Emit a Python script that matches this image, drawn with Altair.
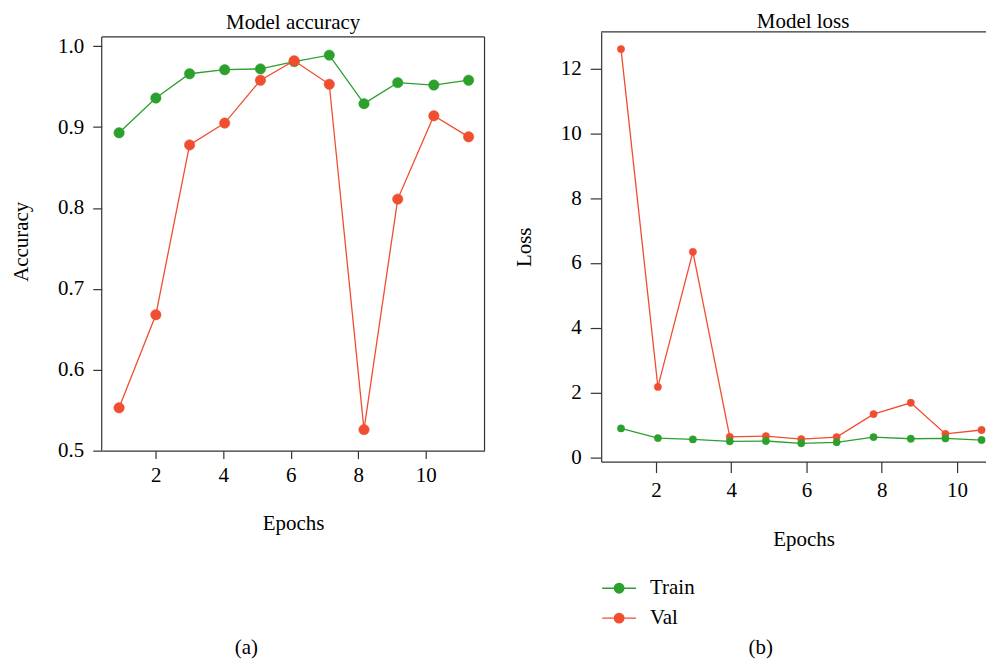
import altair as alt
import pandas as pd

# ---- data ----
acc_epochs = [0.91, 2.00, 3.00, 4.04, 5.10, 6.10, 7.14, 8.17, 9.17, 10.24, 11.27]
train_acc = [0.893, 0.936, 0.966, 0.971, 0.972, 0.981, 0.989, 0.929, 0.955, 0.952, 0.958]
val_acc = [0.553, 0.668, 0.878, 0.905, 0.958, 0.982, 0.953, 0.526, 0.811, 0.914, 0.888]

loss_epochs = [1.07, 2.05, 2.98, 3.96, 4.92, 5.86, 6.80, 7.78, 8.77, 9.69, 10.65]
train_loss = [0.89, 0.59, 0.55, 0.49, 0.50, 0.43, 0.46, 0.62, 0.57, 0.58, 0.53]
val_loss = [12.60, 2.17, 6.34, 0.63, 0.65, 0.56, 0.62, 1.33, 1.68, 0.72, 0.84]

series_names = ["Train", "Val"]
series_colors = ["#2ca02c", "#f04e30"]

x_ticks = [2, 4, 6, 8, 10]
acc_ticks = [0.5, 0.6, 0.7, 0.8, 0.9, 1.0]
loss_ticks = [0, 2, 4, 6, 8, 10, 12]

FONT = "Liberation Serif"
FS = 21
AXIS_COLOR = "#333333"


def long_frame(epochs, train, val):
    n = len(epochs)
    return pd.DataFrame({
        "Epoch": list(epochs) * 2,
        "Value": list(train) + list(val),
        "Series": [series_names[0]] * n + [series_names[1]] * n,
    })


acc_df = long_frame(acc_epochs, train_acc, val_acc)
loss_df = long_frame(loss_epochs, train_loss, val_loss)

stroke_scale = alt.Scale(domain=series_names, range=series_colors)
fill_scale = alt.Scale(domain=series_names, range=series_colors)

SYMBOL = "M-1,0H1M-0.28,0A0.28,0.28,0,1,1,0.28,0A0.28,0.28,0,1,1,-0.28,0Z"


def make_legend(show):
    if not show:
        return None
    return alt.Legend(
        title=None, orient="none", legendX=0, legendY=548,
        symbolType=SYMBOL, symbolSize=1156, symbolStrokeWidth=1.4,
        clipHeight=20, rowPadding=9, labelFont=FONT, labelFontSize=FS,
        labelColor="black", labelOffset=13, padding=0,
    )


def series_layers(df, order, x_enc, y_enc, point_size, show_legend):
    layers = []
    for s in order:
        sub = alt.Chart(df).transform_filter(alt.datum.Series == s)
        line = sub.mark_line(strokeWidth=1.3).encode(
            x=x_enc, y=y_enc,
            stroke=alt.Stroke("Series:N", scale=stroke_scale, legend=make_legend(show_legend)),
        )
        pts = sub.mark_point(filled=True, size=point_size, strokeWidth=0.5, opacity=1).encode(
            x=x_enc, y=y_enc,
            fill=alt.Fill("Series:N", scale=fill_scale, legend=make_legend(show_legend)),
            stroke=alt.Stroke("Series:N", scale=stroke_scale, legend=make_legend(show_legend)),
        )
        layers += [line, pts]
    return layers


one = pd.DataFrame({"k": [0]})

# ---- left panel: accuracy ----
LW, LH = 384, 420
lx = alt.X("Epoch:Q", scale=alt.Scale(domain=[0.395, 11.743], nice=False, zero=False),
           axis=alt.Axis(values=x_ticks, format="d", title="Epochs", tickSize=8,
                         labelPadding=6, titlePadding=27))
ly = alt.Y("Value:Q", scale=alt.Scale(domain=[0.5, 1.0177], nice=False, zero=False),
           axis=alt.Axis(values=acc_ticks, format=".1f", title="Accuracy", tickSize=9,
                         labelPadding=9, titlePadding=26, domain=False))

frame_top = alt.Chart(one).mark_rule(color=AXIS_COLOR, strokeWidth=1.2).encode(
    x=alt.value(0), x2=alt.value(LW), y=alt.value(5))
frame_left = alt.Chart(one).mark_rule(color=AXIS_COLOR, strokeWidth=1.2).encode(
    x=alt.value(0), y=alt.value(5), y2=alt.value(LH))
frame_right = alt.Chart(one).mark_rule(color=AXIS_COLOR, strokeWidth=1.2).encode(
    x=alt.value(LW), y=alt.value(5), y2=alt.value(LH))
label_a = alt.Chart(pd.DataFrame({"t": ["(a)"]})).mark_text(
    font=FONT, fontSize=FS, color="black", baseline="alphabetic").encode(
    text="t:N", x=alt.value(145), y=alt.value(624))

left = alt.layer(
    *series_layers(acc_df, ["Train", "Val"], lx, ly, 110, False),
    frame_top, frame_left, frame_right, label_a,
).properties(
    width=LW, height=LH,
    title=alt.TitleParams("Model accuracy", font=FONT, fontSize=FS, fontWeight="normal",
                          color="black", offset=-1, anchor="middle"),
)

# ---- right panel: loss ----
RW, RH = 393, 431
rx = alt.X("Epoch:Q", scale=alt.Scale(domain=[0.543, 10.954], nice=False, zero=False),
           axis=alt.Axis(values=x_ticks, format="d", title="Epochs", tickSize=11,
                         labelPadding=7, titlePadding=28, titleX=203))
ry = alt.Y("Value:Q", scale=alt.Scale(domain=[-0.136, 13.13], nice=False, zero=False),
           axis=alt.Axis(values=loss_ticks, format="d", title="Loss", tickSize=11,
                         labelPadding=9, titlePadding=26))

rframe_top = alt.Chart(one).mark_rule(color=AXIS_COLOR, strokeWidth=1.2).encode(
    x=alt.value(0), x2=alt.value(RW), y=alt.value(0))
label_b = alt.Chart(pd.DataFrame({"t": ["(b)"]})).mark_text(
    font=FONT, fontSize=FS, color="black", baseline="alphabetic").encode(
    text="t:N", x=alt.value(160), y=alt.value(624))

right = alt.layer(
    *series_layers(loss_df, ["Val", "Train"], rx, ry, 54, True),
    rframe_top, label_b,
).properties(
    width=RW, height=RH,
    title=alt.TitleParams("Model loss", font=FONT, fontSize=FS, fontWeight="normal",
                          color="black", offset=-1, anchor="middle", dx=6),
)

chart = alt.hconcat(left, right, spacing=28).resolve_scale(
    stroke="independent", fill="independent", x="independent", y="independent"
).configure_view(stroke=None).configure_axis(
    labelFont=FONT, titleFont=FONT, labelFontSize=FS, titleFontSize=FS,
    labelColor="black", titleColor="black", titleFontWeight="normal",
    domainColor=AXIS_COLOR, tickColor=AXIS_COLOR, domainWidth=1.2, tickWidth=1.2,
    grid=False,
).properties(
    padding={"left": 2, "top": 2, "right": -8, "bottom": 0},
    background="white",
)

chart.save("out.html", embed_options={"renderer": "svg", "actions": False})
